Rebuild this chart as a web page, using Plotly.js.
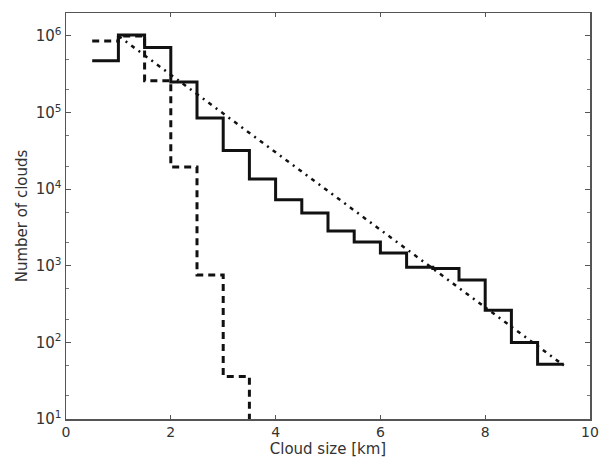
<!DOCTYPE html>
<html>
<head>
<meta charset="utf-8">
<script src="https://cdn.plot.ly/plotly-3.0.1.min.js"></script>
<style>html,body{margin:0;padding:0;background:#fff;}#chart{width:599px;height:463px;}</style>
</head>
<body>
<div id="chart"></div>
<script>
// Bin edges (km)
const binEdges = [0.5,1.0,1.5,2.0,2.5,3.0,3.5,4.0,4.5,5.0,5.5,6.0,6.5,7.0,7.5,8.0,8.5,9.0,9.5];
// Solid histogram counts (one per bin)
const solidCounts = [4.75e5,1.03e6,7.1e5,2.5e5,8.5e4,3.2e4,1.36e4,7.3e3,4.9e3,2.85e3,2.05e3,1.47e3,960,920,650,263,100,52];
// Dashed histogram counts (bins after 3.5 km are empty -> drawn below axis, value 1)
const dashedCounts = [8.6e5,1.0e6,2.6e5,1.95e4,760,36,1,1,1];
// Fitted exponential (dash-dot) end points
const fitX = [1.0, 9.5];
const fitY = [1.0e6, 50];
// Axis ticks
const xTickVals = [0,2,4,6,8,10];
const yTickVals = [10,100,1000,10000,100000,1000000];
const yTickText = ['10<sup>1</sup>','10<sup>2</sup>','10<sup>3</sup>','10<sup>4</sup>','10<sup>5</sup>','10<sup>6</sup>'];

function steps(edges, counts){
  const xs=[], ys=[];
  for(let i=0;i<counts.length;i++){
    xs.push(edges[i], edges[i+1]);
    ys.push(counts[i], counts[i]);
  }
  return {x:xs, y:ys};
}
const s = steps(binEdges, solidCounts);
const d = steps(binEdges, dashedCounts);

const traces = [
  {x:d.x, y:d.y, mode:'lines', line:{color:'#111', width:3, dash:'7px,5px'}, hoverinfo:'skip'},
  {x:fitX, y:fitY, mode:'lines', line:{color:'#111', width:2.5, dash:'4px,5px,2px,5px'}, hoverinfo:'skip'},
  {x:s.x, y:s.y, mode:'lines', line:{color:'#111', width:3}, hoverinfo:'skip'}
];

const fam = 'DejaVu Sans, sans-serif';
const layout = {
  width:599, height:463,
  margin:{l:66, r:9, t:13, b:44},
  paper_bgcolor:'#fff', plot_bgcolor:'#fff',
  showlegend:false,
  font:{family:fam, color:'#333'},
  xaxis:{
    range:[0,10], tickvals:xTickVals, ticks:'inside', ticklen:4, tickcolor:'#555',
    showgrid:false, zeroline:false, showline:true, mirror:'allticks',
    linecolor:'#555', linewidth:1.5,
    tickfont:{size:14, family:fam, color:'#333'},
    title:{text:'Cloud size [km]', font:{size:15, family:fam, color:'#333'}, standoff:2}
  },
  yaxis:{
    type:'log', range:[1,6.3], tickvals:yTickVals, ticktext:yTickText,
    ticks:'inside', ticklen:5, tickcolor:'#555',
    minor:{ticks:'inside', ticklen:3, tickcolor:'#777', showgrid:false},
    showgrid:false, zeroline:false, showline:true, mirror:'allticks',
    linecolor:'#555', linewidth:1.5,
    tickfont:{size:15, family:fam, color:'#333'},
    title:{text:'Number of clouds', font:{size:15, family:fam, color:'#333'}, standoff:4}
  }
};
Plotly.newPlot('chart', traces, layout, {displayModeBar:false, staticPlot:true});
</script>
</body>
</html>
